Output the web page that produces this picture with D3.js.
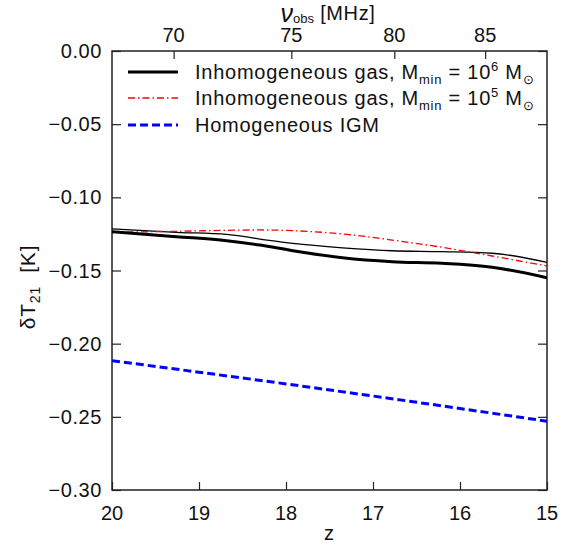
<!DOCTYPE html>
<html>
<head>
<meta charset="utf-8">
<script src="https://cdn.jsdelivr.net/npm/d3@7"></script>
<style>
  body { margin: 0; background: #fff; }
  text { font-family: "Liberation Sans", Arial, sans-serif; fill: #111; }
</style>
</head>
<body>
<script>
'use strict';

// redshift samples
const zThick = [20, 19.26, 18.68, 18.30, 17.92, 17.35, 16.78, 16.21, 15.63, 15];
const tThick = [-0.1235, -0.1269, -0.1296, -0.1326, -0.1365, -0.1413, -0.1440, -0.1451, -0.1478, -0.1549];
const tThin = [-0.1216, -0.1239, -0.1253, -0.1285, -0.1315, -0.1345, -0.1365, -0.1371, -0.1382, -0.1444];
const zRed = [20, 19.26, 18.30, 17.92, 17.35, 16.78, 16.21, 15.63, 15];
const tRed = [-0.1239, -0.1232, -0.1223, -0.1228, -0.1250, -0.1292, -0.1341, -0.1401, -0.1469];
const zBlue = [20, 19, 18, 17, 16, 15];
const tBlue = [-0.2116, -0.2195, -0.2275, -0.2358, -0.2443, -0.2530];

const zTicks = [20, 19, 18, 17, 16, 15];
const nuTicks = [70, 75, 80, 85];
const yTicks = [0, -0.05, -0.10, -0.15, -0.20, -0.25, -0.30];

const m = { left: 112, right: 547, top: 51, bottom: 490 };
const nu21 = 1420.40575; // MHz
const nuToZ = nu => nu21 / nu - 1;

const svg = d3.select('body').append('svg')
  .attr('width', 562)
  .attr('height', 546);

const x = d3.scaleLinear().domain([20, 15]).range([m.left, m.right]);
const y = d3.scaleLinear().domain([0, -0.30]).range([m.top, m.bottom]);

const fmt = d => (d < 0 ? '\u2212' : '') + Math.abs(d).toFixed(2);

// axes with inward ticks
function styleAxis(g) {
  g.select('.domain').remove();
  g.selectAll('line').attr('stroke', '#222').attr('stroke-width', 1.2);
}

svg.append('g')
  .attr('transform', `translate(0,${m.bottom})`)
  .call(d3.axisTop(x).tickValues(zTicks).tickSize(8).tickFormat(''))
  .call(styleAxis);
svg.append('g').selectAll('text').data(zTicks).join('text')
  .attr('x', d => x(d)).attr('y', 520)
  .attr('text-anchor', 'middle').style('font-size', '20px')
  .text(d => d);

svg.append('g')
  .attr('transform', `translate(0,${m.top})`)
  .call(d3.axisBottom(x).tickValues(nuTicks.map(nuToZ)).tickSize(8).tickFormat(''))
  .call(styleAxis);
svg.append('g').selectAll('text').data(nuTicks).join('text')
  .attr('x', d => x(nuToZ(d))).attr('y', 42)
  .attr('text-anchor', 'middle').style('font-size', '20px')
  .text(d => d);

svg.append('g')
  .attr('transform', `translate(${m.left},0)`)
  .call(d3.axisRight(y).tickValues(yTicks).tickSize(9).tickFormat(''))
  .call(styleAxis);
svg.append('g').selectAll('text').data(yTicks).join('text')
  .attr('x', 102).attr('y', d => y(d) + 7)
  .attr('text-anchor', 'end').style('font-size', '20px')
  .style('letter-spacing', '0.6px')
  .text(fmt);

svg.append('g')
  .attr('transform', `translate(${m.right},0)`)
  .call(d3.axisLeft(y).tickValues(yTicks).tickSize(9).tickFormat(''))
  .call(styleAxis);

// frame
svg.append('rect')
  .attr('x', m.left).attr('y', m.top)
  .attr('width', m.right - m.left).attr('height', m.bottom - m.top)
  .attr('fill', 'none').attr('stroke', '#222').attr('stroke-width', 1.5);

// curves
svg.append('clipPath').attr('id', 'plot')
  .append('rect').attr('x', m.left).attr('y', m.top)
  .attr('width', m.right - m.left).attr('height', m.bottom - m.top);

const line = d3.line().x(d => x(d[0])).y(d => y(d[1])).curve(d3.curveMonotoneX);
const series = [
  { z: zThick, t: tThin, color: '#000', w: 1.3, dash: null },
  { z: zRed, t: tRed, color: '#ff0000', w: 1.3, dash: '7,3,1.5,3' },
  { z: zThick, t: tThick, color: '#000', w: 3, dash: null },
  { z: zBlue, t: tBlue, color: '#0000ff', w: 3, dash: '8,4' }
];
const plot = svg.append('g').attr('clip-path', 'url(#plot)');
series.forEach(s => {
  plot.append('path')
    .datum(s.z.map((z, i) => [z, s.t[i]]))
    .attr('fill', 'none')
    .attr('stroke', s.color)
    .attr('stroke-width', s.w)
    .attr('stroke-dasharray', s.dash)
    .attr('d', line);
});

// legend
const legend = [
  { y: 72, color: '#000', w: 3, dash: null, label: ['Inhomogeneous gas, M', 'min', ' = 10', '6', ' M', '\u2299'] },
  { y: 98, color: '#ff0000', w: 1.3, dash: '7,3,1.5,3', label: ['Inhomogeneous gas, M', 'min', ' = 10', '5', ' M', '\u2299'] },
  { y: 125, color: '#0000ff', w: 3, dash: '8,4', label: ['Homogeneous IGM'] }
];
legend.forEach(l => {
  svg.append('line')
    .attr('x1', 128).attr('x2', 178).attr('y1', l.y).attr('y2', l.y)
    .attr('stroke', l.color).attr('stroke-width', l.w)
    .attr('stroke-dasharray', l.dash);
  const t = svg.append('text').attr('x', 195).attr('y', l.y + 7)
    .style('font-size', '20px').style('letter-spacing', '0.75px')
    .attr('xml:space', 'preserve');
  if (l.label.length === 1) {
    t.text(l.label[0]);
  } else {
    t.append('tspan').text(l.label[0]);
    t.append('tspan').attr('dy', 5).style('font-size', '13px').text(l.label[1]);
    t.append('tspan').attr('dy', -5).text(l.label[2]);
    t.append('tspan').attr('dy', -8).style('font-size', '13px').text(l.label[3]);
    t.append('tspan').attr('dy', 8).text(l.label[4]);
    t.append('tspan').attr('dy', 5).style('font-size', '13px').text(l.label[5]);
  }
});

// axis titles
svg.append('text')
  .attr('x', 329).attr('y', 540)
  .attr('text-anchor', 'middle').style('font-size', '20px')
  .text('z');

const topLabel = svg.append('text')
  .attr('x', 328).attr('y', 20)
  .attr('text-anchor', 'middle').style('font-size', '20px')
  .attr('xml:space', 'preserve');
topLabel.append('tspan').attr('dy', 2).style('font-style', 'italic').style('font-size', '25px').text('\u03bd');
topLabel.append('tspan').attr('dy', 1).style('font-size', '13px').text('obs');
topLabel.append('tspan').attr('dy', -3).style('letter-spacing', '0.6px').text(' [MHz]');

const yLabel = svg.append('text')
  .attr('transform', 'translate(35,287) rotate(-90)')
  .attr('text-anchor', 'middle').style('font-size', '21px')
  .style('letter-spacing', '0.8px')
  .attr('xml:space', 'preserve');
yLabel.append('tspan').text('\u03b4T');
yLabel.append('tspan').attr('dy', 5).style('font-size', '14px').text('21');
yLabel.append('tspan').attr('dy', -5).text('  [K]');
</script>
</body>
</html>
